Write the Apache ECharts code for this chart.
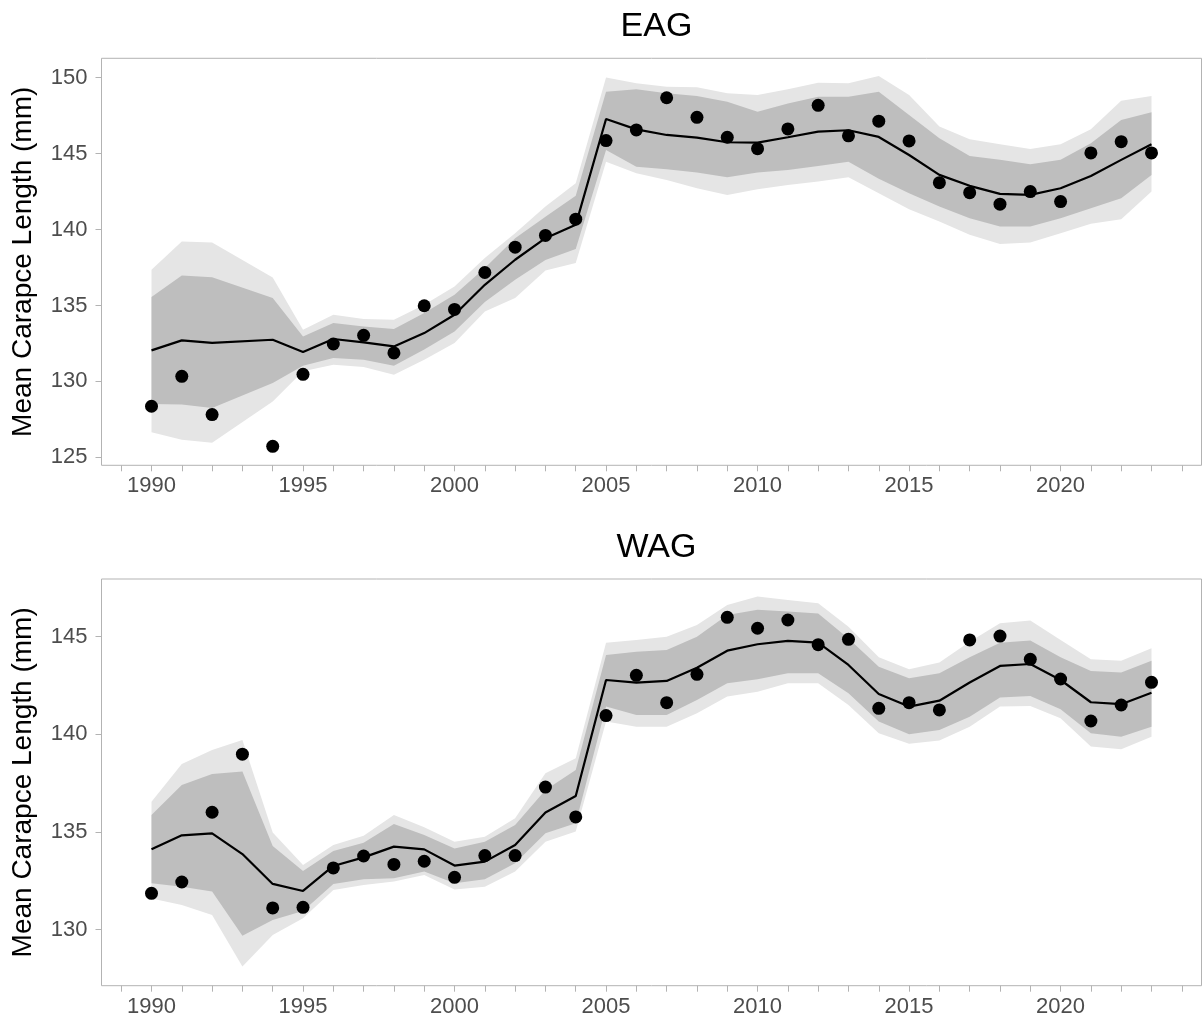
<!DOCTYPE html>
<html>
<head>
<meta charset="utf-8">
<script src="https://cdn.jsdelivr.net/npm/echarts@6/dist/echarts.min.js"></script>
<style>
html,body{margin:0;padding:0;background:#fff;}
#chart{width:1203px;height:1025px;}
</style>
</head>
<body>
<div id="chart"></div>
<script>
// ---------- DATA ----------
// EAG (no observation / estimate for 1993)
const eagYears = [1990,1991,1992,1994,1995,1996,1997,1998,1999,2000,2001,2002,2003,2004,2005,2006,2007,2008,2009,2010,2011,2012,2013,2014,2015,2016,2017,2018,2019,2020,2021,2022,2023];
const eagObs  = [128.36,130.33,127.81,125.72,130.46,132.46,133.03,131.87,134.98,134.74,137.17,138.84,139.61,140.68,145.86,146.56,148.68,147.39,146.08,145.33,146.63,148.18,146.17,147.14,145.84,143.09,142.43,141.67,142.50,141.84,145.05,145.79,145.05];
const eagFit  = [132.04,132.70,132.53,132.74,131.93,132.79,132.57,132.30,133.18,134.39,136.36,138.01,139.43,140.31,147.28,146.60,146.23,146.05,145.75,145.72,146.08,146.45,146.54,146.10,144.91,143.60,142.88,142.35,142.28,142.72,143.53,144.59,145.62];
const eagLo80 = [128.51,128.47,128.25,129.89,131.03,131.54,131.43,131.03,132.09,133.29,135.22,136.69,138.00,138.71,145.24,144.14,143.97,143.75,143.45,143.75,143.93,144.19,144.47,143.35,142.39,141.51,140.75,140.20,140.20,140.75,141.40,142.06,143.60];
const eagHi80 = [135.55,136.97,136.86,135.49,132.96,133.84,133.62,133.45,134.50,135.70,137.46,139.43,140.85,142.22,149.08,149.24,148.97,148.80,148.42,147.76,148.31,148.75,148.75,149.08,147.55,146.01,144.85,144.59,144.30,144.59,145.68,147.22,147.72];
const eagLo95 = [126.64,126.16,125.95,128.68,130.66,131.10,130.95,130.44,131.43,132.53,134.60,135.49,137.30,137.79,144.47,143.71,143.27,142.72,142.28,142.66,142.94,143.16,143.45,142.39,141.34,140.53,139.65,139.04,139.14,139.76,140.38,140.68,142.50];
const eagHi95 = [137.35,139.21,139.14,136.84,133.40,134.39,134.10,134.06,135.05,136.25,138.12,139.76,141.51,143.05,150.02,149.63,149.41,149.37,148.97,148.86,149.24,149.67,149.63,150.11,148.86,146.78,145.94,145.62,145.31,145.62,146.60,148.49,148.80];

// WAG
const wagYears = [1990,1991,1992,1993,1994,1995,1996,1997,1998,1999,2000,2001,2002,2003,2004,2005,2006,2007,2008,2009,2010,2011,2012,2013,2014,2015,2016,2017,2018,2019,2020,2021,2022,2023];
const wagObs  = [131.86,132.44,136.01,138.98,131.11,131.14,133.16,133.77,133.34,133.50,132.68,133.79,133.79,137.30,135.77,140.96,143.02,141.62,143.07,145.99,145.43,145.85,144.59,144.86,141.33,141.62,141.25,144.83,145.03,143.84,142.83,140.68,141.50,142.66];
const wagFit  = [134.11,134.83,134.93,133.87,132.34,131.98,133.26,133.70,134.25,134.11,133.28,133.48,134.33,136.00,136.84,142.78,142.65,142.73,143.41,144.28,144.61,144.78,144.69,143.55,142.06,141.42,141.72,142.65,143.50,143.60,142.78,141.64,141.54,142.13];
const wagLo80 = [132.37,132.20,131.95,129.69,130.49,130.96,132.34,132.58,132.63,132.97,132.37,132.58,133.40,134.93,135.44,141.42,140.99,140.99,141.76,142.61,142.82,143.12,143.12,142.10,140.65,140.00,140.22,140.90,141.89,141.96,141.28,140.05,139.88,140.39];
const wagHi80 = [135.87,137.41,137.97,138.09,134.28,133.00,134.03,134.45,135.41,134.85,134.16,134.50,135.36,137.15,138.17,144.06,144.23,144.32,145.00,146.11,146.37,146.28,146.19,144.91,143.46,142.87,143.12,143.94,144.69,144.80,143.94,143.24,143.16,143.77];
const wagLo95 = [131.60,131.26,130.75,128.11,129.73,130.58,132.03,132.29,132.46,132.80,132.06,132.20,132.97,134.50,135.02,140.65,140.39,140.39,141.08,141.93,142.18,142.61,142.61,141.50,140.05,139.51,139.68,140.39,141.42,141.45,140.82,139.37,139.23,139.88];
const wagHi95 = [136.55,138.48,139.20,139.71,134.97,133.31,134.33,134.80,135.87,135.24,134.50,134.76,135.70,138.00,138.77,144.69,144.83,145.00,145.60,146.62,147.05,146.88,146.71,145.51,143.94,143.33,143.67,144.74,145.68,145.82,144.83,143.84,143.77,144.40];

// Ticks / labels
const xTickYears  = [1989,1990,1991,1992,1993,1994,1995,1996,1997,1998,1999,2000,2001,2002,2003,2004,2005,2006,2007,2008,2009,2010,2011,2012,2013,2014,2015,2016,2017,2018,2019,2020,2021,2022,2023,2024];
const xLabelYears = [1990,1995,2000,2005,2010,2015,2020];
const eagYTicks = [125,130,135,140,145,150];
const wagYTicks = [130,135,140,145];
const panelTitles = ['EAG','WAG'];
const yAxisTitle = 'Mean Carapce Length (mm)';

// ---------- CHART ----------
const chart = echarts.init(document.getElementById('chart'), null, {renderer:'canvas'});
const FONT = 'Liberation Sans, Arial, Helvetica, sans-serif';
const LIGHT = '#e5e5e5', DARK = '#bebebe', FRAME = '#b3b3b3', TICKTXT = '#4d4d4d';

function pairs(xs, ys){ return xs.map((x,i)=>[x, ys[i]]); }

function band(idx, xs, lo, hi, color){
  return {
    type:'custom', xAxisIndex:idx, yAxisIndex:idx, silent:true, z:1,
    data: xs.map((x,i)=>[x, lo[i], hi[i]]),
    encode:{x:0, y:[1,2]},
    renderItem:function(params, api){
      if (params.dataIndex !== 0) return null;
      const pts = [];
      for (let i=0;i<xs.length;i++) pts.push(api.coord([xs[i], hi[i]]));
      for (let i=xs.length-1;i>=0;i--) pts.push(api.coord([xs[i], lo[i]]));
      return {type:'polygon', shape:{points:pts}, style:{fill:color}};
    }
  };
}

const grids = [
  {left:101.5, top:58.3, width:1100, height:407, show:true, borderColor:FRAME, borderWidth:1, containLabel:false},
  {left:101.5, top:579, width:1100, height:406.7, show:true, borderColor:FRAME, borderWidth:1, containLabel:false}
];

function xAxis(i){
  return {
    type:'value', gridIndex:i, min:1988.35, max:2024.65,
    axisLine:{show:false},
    splitLine:{show:false},
    axisTick:{show:true, customValues:xTickYears, length:6, lineStyle:{color:FRAME, width:1}},
    axisLabel:{customValues:xLabelYears, color:TICKTXT, fontSize:22, fontFamily:FONT, margin:10,
      formatter:v=>String(v)}
  };
}
function yAxis(i, mn, mx, ticks){
  return {
    type:'value', gridIndex:i, min:mn, max:mx,
    name:yAxisTitle, nameLocation:'middle', nameGap:64,
    nameTextStyle:{fontSize:28, color:'#000', fontFamily:FONT},
    axisLine:{show:false},
    splitLine:{show:false},
    axisTick:{show:true, customValues:ticks, length:6, lineStyle:{color:FRAME, width:1}},
    axisLabel:{customValues:ticks, color:TICKTXT, fontSize:22, fontFamily:FONT, margin:14,
      formatter:v=>String(v)}
  };
}

function lineS(idx, xs, ys){
  return {type:'line', xAxisIndex:idx, yAxisIndex:idx, data:pairs(xs,ys), showSymbol:false, symbol:'none',
    lineStyle:{color:'#000', width:2.2}, z:3, silent:true, animation:false};
}
function dotS(idx, xs, ys){
  return {type:'scatter', xAxisIndex:idx, yAxisIndex:idx, data:pairs(xs,ys), symbol:'circle', symbolSize:13,
    itemStyle:{color:'#000', opacity:1}, z:4, silent:true, animation:false};
}

chart.setOption({
  animation:false,
  backgroundColor:'#fff',
  title:[
    {text:panelTitles[0], left:651.5, top:22, textAlign:'center', textVerticalAlign:'middle',
      textStyle:{fontSize:34, fontWeight:'normal', color:'#000', fontFamily:FONT}},
    {text:panelTitles[1], left:651.5, top:543, textAlign:'center', textVerticalAlign:'middle',
      textStyle:{fontSize:34, fontWeight:'normal', color:'#000', fontFamily:FONT}}
  ],
  grid:grids,
  xAxis:[xAxis(0), xAxis(1)],
  yAxis:[yAxis(0, 124.47, 151.28, eagYTicks), yAxis(1, 127.13, 147.95, wagYTicks)],
  series:[
    band(0, eagYears, eagLo95, eagHi95, LIGHT),
    band(0, eagYears, eagLo80, eagHi80, DARK),
    lineS(0, eagYears, eagFit),
    dotS(0, eagYears, eagObs),
    band(1, wagYears, wagLo95, wagHi95, LIGHT),
    band(1, wagYears, wagLo80, wagHi80, DARK),
    lineS(1, wagYears, wagFit),
    dotS(1, wagYears, wagObs)
  ]
});
</script>
</body>
</html>
